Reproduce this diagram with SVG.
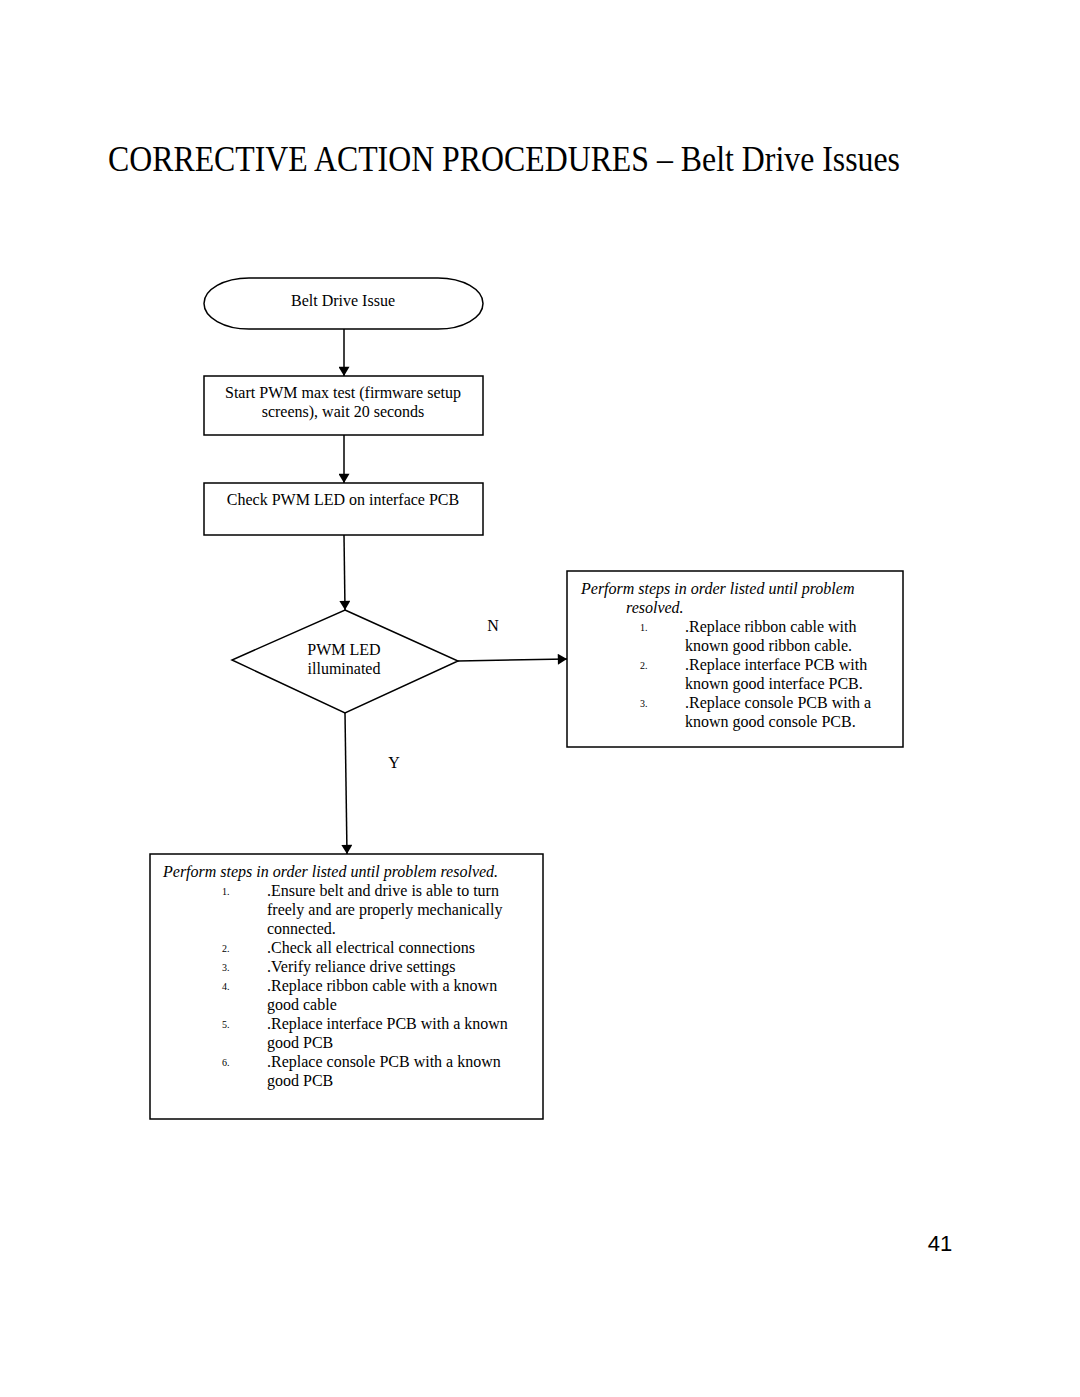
<svg xmlns="http://www.w3.org/2000/svg" width="1080" height="1397" viewBox="0 0 1080 1397">
<defs>
<marker id="ah" viewBox="0 0 10 12" refX="10" refY="6" markerWidth="12" markerHeight="11" markerUnits="userSpaceOnUse" orient="auto">
<path d="M0,0 L10,6 L0,12 z" fill="#000"/>
</marker>
<style>
.t{font-family:"Liberation Serif","Times New Roman",serif;font-size:16px;fill:#000}
.c{text-anchor:middle}
.i{font-style:italic}
.n{font-size:10px}
.s{fill:#fff;stroke:#000;stroke-width:1.5}
.e{fill:none;stroke:#000;stroke-width:1.5}
</style>
</defs>
<rect width="1080" height="1397" fill="#fff"/>
<text x="108" y="171" font-family="Liberation Serif, serif" font-size="36" textLength="792" lengthAdjust="spacingAndGlyphs">CORRECTIVE ACTION PROCEDURES – Belt Drive Issues</text>
<g id="connectors">
<line class="e" x1="344" y1="329" x2="344" y2="376" marker-end="url(#ah)"/>
<line class="e" x1="344" y1="435" x2="344" y2="483" marker-end="url(#ah)"/>
<line class="e" x1="344" y1="535" x2="345" y2="610" marker-end="url(#ah)"/>
<line class="e" x1="458" y1="661" x2="567" y2="659" marker-end="url(#ah)"/>
<line class="e" x1="345" y1="713" x2="347" y2="854" marker-end="url(#ah)"/>
<text class="t" x="493" y="631" text-anchor="middle">N</text>
<text class="t" x="394" y="768" text-anchor="middle">Y</text>
</g>
<g id="start">
<rect class="s" x="204" y="278" width="279" height="51" rx="45" ry="25.5"/>
<text class="t c" x="343" y="306">Belt Drive Issue</text>
</g>
<g id="pwm-test">
<rect class="s" x="204" y="376" width="279" height="59"/>
<text class="t c" x="343" y="398">Start PWM max test (firmware setup</text>
<text class="t c" x="343" y="417">screens), wait 20 seconds</text>
</g>
<g id="check-led">
<rect class="s" x="204" y="483" width="279" height="52"/>
<text class="t c" x="343" y="505">Check PWM LED on interface PCB</text>
</g>
<g id="decision">
<polygon class="s" points="345,610 458,661 345,713 232,660"/>
<text class="t c" x="344" y="655">PWM LED</text>
<text class="t c" x="344" y="674">illuminated</text>
</g>
<g id="no-steps">
<rect class="s" x="567" y="571" width="336" height="176"/>
<text class="t i" x="581" y="594">Perform steps in order listed until problem</text>
<text class="t i" x="626" y="613">resolved.</text>
<text class="t n" x="640" y="631">1.</text>
<text class="t" x="685" y="632">.Replace ribbon cable with</text>
<text class="t" x="685" y="651">known good ribbon cable.</text>
<text class="t n" x="640" y="669">2.</text>
<text class="t" x="685" y="670">.Replace interface PCB with</text>
<text class="t" x="685" y="689">known good interface PCB.</text>
<text class="t n" x="640" y="707">3.</text>
<text class="t" x="685" y="708">.Replace console PCB with a</text>
<text class="t" x="685" y="727">known good console PCB.</text>
</g>
<g id="yes-steps">
<rect class="s" x="150" y="854" width="393" height="265"/>
<text class="t i" x="163" y="877">Perform steps in order listed until problem resolved.</text>
<text class="t n" x="222" y="895">1.</text>
<text class="t" x="267" y="896">.Ensure belt and drive is able to turn</text>
<text class="t" x="267" y="915">freely and are properly mechanically</text>
<text class="t" x="267" y="934">connected.</text>
<text class="t n" x="222" y="952">2.</text>
<text class="t" x="267" y="953">.Check all electrical connections</text>
<text class="t n" x="222" y="971">3.</text>
<text class="t" x="267" y="972">.Verify reliance drive settings</text>
<text class="t n" x="222" y="990">4.</text>
<text class="t" x="267" y="991">.Replace ribbon cable with a  known</text>
<text class="t" x="267" y="1010">good cable</text>
<text class="t n" x="222" y="1028">5.</text>
<text class="t" x="267" y="1029">.Replace interface PCB with a known</text>
<text class="t" x="267" y="1048">good PCB</text>
<text class="t n" x="222" y="1066">6.</text>
<text class="t" x="267" y="1067">.Replace console PCB with a known</text>
<text class="t" x="267" y="1086">good PCB</text>
</g>
<text x="940" y="1251" font-family="Liberation Sans, Arial, sans-serif" font-size="22" text-anchor="middle">41</text>
</svg>
